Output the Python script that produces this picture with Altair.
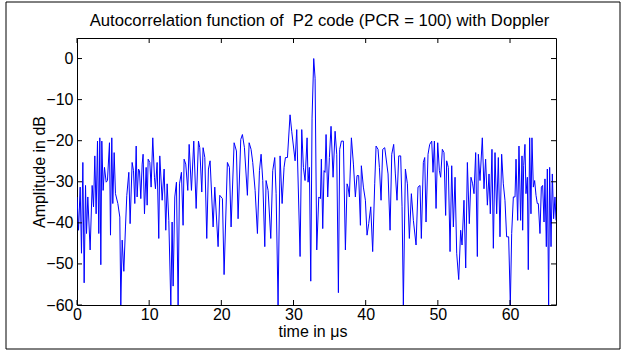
import altair as alt
import pandas as pd

# ---- data ----
time_us = [
    0.0, 0.21, 0.44, 0.62, 0.81, 0.99, 1.18, 1.32, 1.50, 1.82, 2.10, 2.29, 2.47, 2.65, 2.84, 3.02, 3.16, 3.30, 3.44, 3.62, 3.81, 4.04, 4.22,
    4.50, 4.64, 4.82, 4.96, 5.15, 5.33, 5.66, 5.93, 6.07, 6.26, 6.49, 6.72, 6.90, 7.18, 7.36, 7.64, 7.83, 8.01, 8.20, 8.33, 8.52, 8.66, 8.84, 9.03, 9.16, 9.35, 9.58, 9.72, 9.86, 10.09, 10.27, 10.50, 10.73,
    10.87, 11.10, 11.33, 11.47, 11.80, 12.07, 12.30, 12.49, 12.72, 13.00, 13.18, 13.32, 13.55, 13.78, 14.01, 14.20, 14.47, 14.70, 14.84, 15.07, 15.35, 15.54, 15.86, 16.18, 16.51, 16.83, 17.01,
    17.29, 17.47, 17.71, 17.98, 18.21, 18.44, 18.86, 19.09, 19.55, 19.78, 20.15, 20.38, 20.84, 21.12, 21.35, 21.77, 22.09, 22.32, 22.69, 22.92, 23.20,
    23.61, 23.85, 24.12, 24.35, 24.68, 25.00, 25.28, 25.51, 25.74, 26.02, 26.20, 26.48, 26.85, 27.12, 27.40, 27.59, 27.86, 28.14, 28.42, 28.69, 28.88, 29.16, 29.52, 29.75,
    30.22, 30.45, 30.91, 31.14, 31.37, 31.60, 31.88, 32.02, 32.20, 32.39, 32.57, 32.80, 32.99, 33.22, 33.50, 33.73, 33.86, 34.05, 34.23, 34.37, 34.51, 34.74, 34.97, 35.20, 35.48, 35.76, 35.99, 36.22,
    36.40, 36.63, 36.91, 37.19, 37.42, 37.56, 37.74, 38.02, 38.30, 38.57, 38.80, 39.03, 39.27, 39.40, 39.68, 39.96, 40.19, 40.42, 40.70, 40.97, 41.25, 41.44, 41.71, 41.90, 42.13, 42.36, 42.64,
    43.10, 43.38, 43.61, 43.88, 44.11, 44.34, 44.58, 44.85, 45.04, 45.22, 45.50, 45.78, 46.05, 46.33, 46.61, 46.98, 47.25, 47.53, 47.71, 47.99, 48.18, 48.36, 48.64, 48.87,
    49.15, 49.33, 49.52, 49.75, 49.98, 50.21, 50.39, 50.62, 50.85, 51.08, 51.22, 51.45, 51.69, 51.92, 52.15, 52.38, 52.61, 52.89, 53.16, 53.35, 53.62, 53.86, 54.09, 54.36, 54.59, 54.82, 55.01, 55.24, 55.47,
    55.61, 55.84, 56.16, 56.39, 56.62, 56.86, 57.09, 57.27, 57.50, 57.69, 57.92, 58.15, 58.38, 58.61, 58.84, 59.07, 59.30, 59.53, 59.81, 60.04, 60.23, 60.46, 60.69, 60.83, 61.06, 61.24, 61.47, 61.66,
    61.75, 61.89, 62.07, 62.21, 62.40, 62.53, 62.72, 62.90, 63.04, 63.23, 63.41, 63.60, 63.78, 63.92, 64.15, 64.34, 64.52, 64.71, 64.84, 65.03, 65.17, 65.35, 65.49, 65.68, 65.86, 66.04, 66.23, 66.37,
]
amp_db = [
    -33.7, -41.8, -31.3, -47.4, -25.3, -54.6, -30.9, -42.6, -33.7, -46.6, -30.9, -36.1, -23.7, -37.8, -20.1, -42.6, -19.3, -50.2, -20.1, -32.1, -26.5, -30.1, -29.7,
    -20.5, -43.0, -19.3, -35.3, -22.9, -32.9, -35.3, -38.6, -60.0, -44.2, -51.8, -41.0, -33.3, -27.7, -40.2, -25.3, -27.3, -35.3, -21.3, -33.7, -26.9, -27.3, -34.1, -25.7, -23.3, -37.8, -26.5, -35.7, -24.5, -25.3, -31.3, -19.3, -28.9,
    -31.7, -25.3, -43.8, -23.7, -34.5, -26.9, -41.8, -30.5, -39.4, -60.0, -39.8, -55.4, -33.7, -30.1, -60.0, -30.5, -27.7, -40.6, -24.5, -25.7, -32.1, -20.9, -32.1, -20.1, -36.5, -20.1, -21.7,
    -32.5, -21.7, -24.1, -43.8, -26.9, -24.9, -41.0, -31.3, -45.8, -33.3, -34.1, -52.6, -25.3, -26.5, -41.0, -20.5, -22.5, -39.0, -19.7, -18.5, -21.7,
    -33.3, -20.5, -22.1, -25.3, -32.1, -42.6, -27.3, -23.3, -29.7, -45.8, -29.7, -32.1, -43.8, -27.3, -24.1, -32.9, -60.0, -23.7, -35.3, -26.5, -24.1, -24.1, -13.7, -17.7,
    -24.9, -17.3, -48.2, -17.3, -26.5, -29.7, -19.3, -30.1, -26.5, -54.2, -14.5, 0.0, -4.8, -46.6, -33.7, -34.1, -24.5, -41.4, -27.3, -27.7, -18.5, -33.7, -24.1, -16.5, -28.9, -17.7, -23.3, -57.0,
    -22.1, -20.1, -20.1, -46.6, -30.5, -31.3, -33.7, -19.3, -25.7, -33.7, -28.5, -28.5, -40.6, -26.1, -31.3, -34.5, -43.0, -40.2, -36.1, -47.0, -30.5, -21.3, -22.1, -26.5, -34.5, -22.1, -21.7,
    -28.1, -41.8, -23.3, -20.9, -28.1, -34.5, -23.7, -23.7, -36.1, -60.0, -26.9, -30.5, -43.8, -32.9, -39.4, -45.4, -31.3, -30.9, -43.8, -25.3, -24.1, -39.8, -23.3, -20.9,
    -20.1, -27.7, -20.1, -36.5, -20.5, -27.3, -28.9, -22.1, -22.9, -38.2, -24.9, -26.5, -47.0, -26.1, -41.0, -28.9, -47.4, -53.8, -41.8, -45.4, -34.5, -51.0, -25.3, -40.2, -28.9, -30.5, -32.9, -22.9, -48.2,
    -23.3, -29.7, -19.3, -31.7, -24.5, -35.7, -28.1, -37.8, -22.1, -46.2, -22.9, -37.8, -24.1, -43.4, -23.3, -30.5, -34.5, -43.4, -43.4, -60.0, -42.6, -33.7, -33.7, -24.5, -39.4, -21.3, -39.4, -23.7,
    -41.8, -26.1, -20.9, -32.9, -28.9, -51.4, -19.3, -37.8, -19.3, -31.3, -29.7, -33.3, -35.3, -35.3, -42.6, -31.3, -30.9, -39.8, -29.3, -45.8, -26.9, -60.0, -26.5, -45.8, -28.1, -39.0, -33.7, -39.4,
]
x_ticks = [0, 10, 20, 30, 40, 50, 60]
y_ticks = [0, -10, -20, -30, -40, -50, -60]
x_domain = [0, 66.37]
y_domain = [-60, 5]

title_text = "Autocorrelation function of \u00a0P2 code (PCR = 100) with Doppler"
x_title = "time in \u03bcs"
y_title = "Amplitude in dB"

# ---- layout ----
W, H = 479, 267
FONT = "Liberation Sans"
FS = 16
TICK = 5

xs = alt.Scale(domain=x_domain, nice=False, zero=False)
ys = alt.Scale(domain=y_domain, nice=False, zero=False)

x_axis = alt.Axis(
    values=x_ticks, title=x_title, ticks=False, domain=False, grid=False,
    labelFlush=False, labelOverlap=False, labelPadding=1, labelFontSize=FS, labelFont=FONT,
    labelColor="black", titleFontSize=FS, titleFontWeight="normal", titleColor="black", titleFont=FONT,
    titleX=W / 2 - 4, titleY=31, titleAlign="center", titleBaseline="alphabetic")
y_axis = alt.Axis(
    values=y_ticks, title=y_title, ticks=False, domain=False, grid=False,
    labelFlush=False, labelOverlap=False, labelPadding=4, labelFontSize=FS, labelFont=FONT,
    labelColor="black", titleFontSize=FS, titleFontWeight="normal", titleColor="black", titleFont=FONT,
    titleX=-33, titleY=H / 2, titleAngle=270, titleAlign="center", titleBaseline="alphabetic")

df = pd.DataFrame({"t": time_us, "db": amp_db})
xt = pd.DataFrame({"t": x_ticks})
yt = pd.DataFrame({"db": y_ticks})

line = alt.Chart(df).mark_line(color="#0000ff", strokeWidth=1, clip=True).encode(
    x=alt.X("t:Q", scale=xs, axis=x_axis),
    y=alt.Y("db:Q", scale=ys, axis=y_axis),
)

tick_color = "black"
bottom_ticks = alt.Chart(xt).mark_rule(color=tick_color, strokeWidth=1).encode(
    x=alt.X("t:Q", scale=xs, axis=x_axis), y=alt.value(H), y2=alt.value(H - TICK))
top_ticks = alt.Chart(xt).mark_rule(color=tick_color, strokeWidth=1).encode(
    x=alt.X("t:Q", scale=xs, axis=x_axis), y=alt.value(0), y2=alt.value(TICK))
left_ticks = alt.Chart(yt).mark_rule(color=tick_color, strokeWidth=1).encode(
    y=alt.Y("db:Q", scale=ys, axis=y_axis), x=alt.value(0), x2=alt.value(TICK))
right_ticks = alt.Chart(yt).mark_rule(color=tick_color, strokeWidth=1).encode(
    y=alt.Y("db:Q", scale=ys, axis=y_axis), x=alt.value(W), x2=alt.value(W - TICK))

one = pd.DataFrame({"a": [0]})
title_mark = alt.Chart(one).mark_text(
    text=title_text, font=FONT, fontSize=16.7, color="black", align="center",
    baseline="alphabetic").encode(x=alt.value(W / 2 + 3), y=alt.value(-12))

frame = alt.Chart(one).mark_rect(
    fillOpacity=0, stroke="black", strokeWidth=1).encode(
    x=alt.value(-71), x2=alt.value(543), y=alt.value(-36), y2=alt.value(311))

chart = alt.layer(line, bottom_ticks, top_ticks, left_ticks, right_ticks, title_mark, frame).properties(
    width=W, height=H,
    autosize=alt.AutoSizeParams(type="none"),
    padding={"left": 77, "top": 38, "right": 626 - 77 - W, "bottom": 352 - 38 - H},
).configure(font=FONT, background="white").configure_view(stroke="black", strokeWidth=1)

chart.save("out.html", embed_options={"renderer": "svg", "actions": False})
